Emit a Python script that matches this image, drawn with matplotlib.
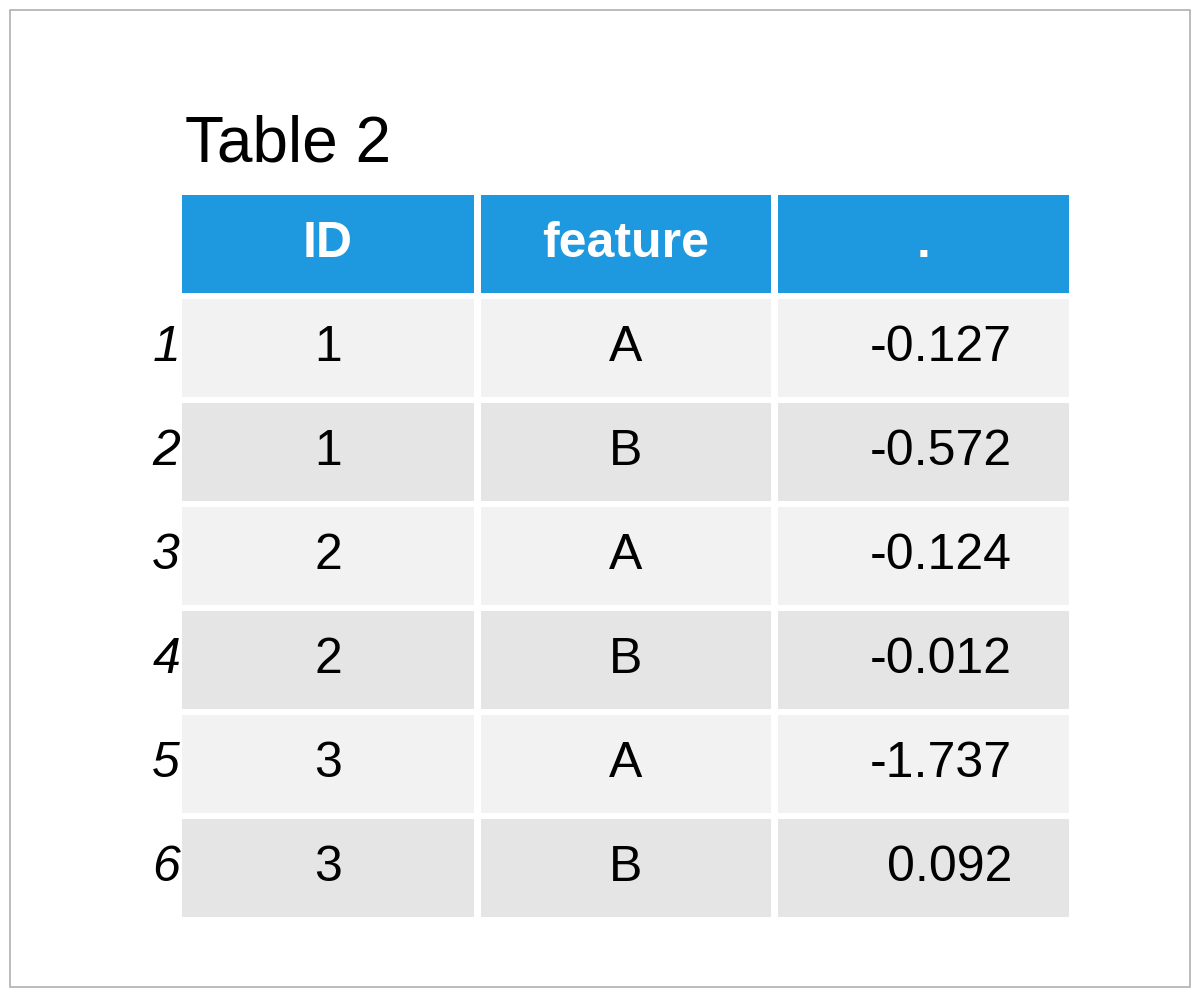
import matplotlib.pyplot as plt
from matplotlib.patches import Rectangle

plt.rcParams['font.family'] = ['Liberation Sans', 'DejaVu Sans']

# --- Datos de la tabla ---
titulo = "Table 2"
columnas = ["ID", "feature", "."]
filas = ["1", "2", "3", "4", "5", "6"]
ids = ["1", "1", "2", "2", "3", "3"]
features = ["A", "B", "A", "B", "A", "B"]
valores = ["-0.127", "-0.572", "-0.124", "-0.012", "-1.737", "0.092"]

fig = plt.figure(figsize=(12, 9.97), dpi=100)
ax = fig.add_axes([0, 0, 1, 1])
ax.set_xlim(0, 1200)
ax.set_ylim(997, 0)
ax.axis("off")

# borde gris
ax.add_patch(Rectangle((10, 10), 1180, 977, fill=False, ec="#B0B0B0", lw=1.2))

ax.text(185, 162, titulo, fontsize=46, ha="left", va="baseline")

col_x = [182, 481, 778]
col_w = [292, 290, 291]
top = 195
head_h = 98
row_h = 104
gap = 6
fs = 36

# cabecera
for j, nombre in enumerate(columnas):
    ax.add_patch(Rectangle((col_x[j], top), col_w[j], head_h, color="#1E98DF", lw=0))
    ax.text(col_x[j] + col_w[j] / 2, top + head_h / 2, nombre, color="white",
            fontsize=fs, fontweight="bold", ha="center", va="center")

# filas
for i in range(len(filas)):
    y = top + head_h + gap + i * row_h
    h = row_h - gap
    fondo = "#F2F2F2" if i % 2 == 0 else "#E5E5E5"
    for j in range(3):
        ax.add_patch(Rectangle((col_x[j], y), col_w[j], h, color=fondo, lw=0))
    yc = y + h / 2
    ax.text(180, yc, filas[i], fontsize=fs, style="italic", ha="right", va="center")
    ax.text(col_x[0] + col_w[0] / 2, yc, ids[i], fontsize=fs, ha="center", va="center")
    ax.text(col_x[1] + col_w[1] / 2, yc, features[i], fontsize=fs, ha="center", va="center")
    ax.text(1012, yc, valores[i], fontsize=fs, ha="right", va="center")

fig.savefig("out.png", dpi=100)
